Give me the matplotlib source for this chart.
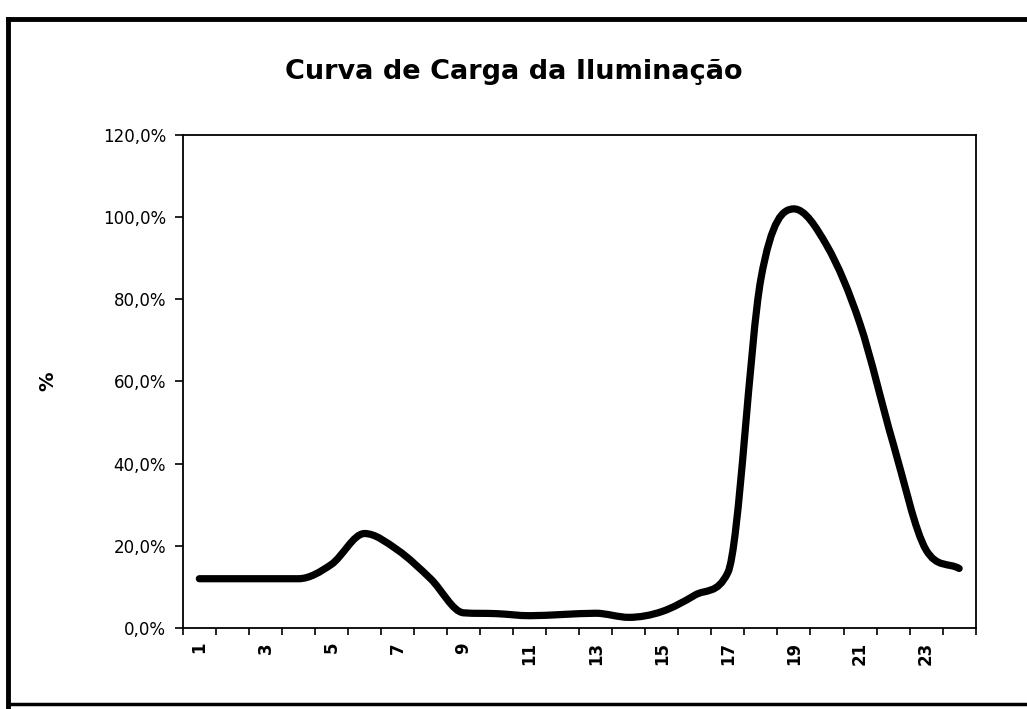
import matplotlib
matplotlib.use('Agg')
import matplotlib.pyplot as plt
import numpy as np
from matplotlib.path import Path
from matplotlib.patches import PathPatch
from matplotlib.lines import Line2D
from matplotlib.ticker import FuncFormatter, FixedLocator

# ---- data ----
hours = np.arange(1, 25)
load_pct = [12, 12, 12, 12, 15.5, 23, 19, 12, 3.7, 3.5, 3.0, 3.3,
            3.6, 2.6, 4.0, 8.0, 13.5, 85, 102, 93, 74, 45, 19, 14.5]
xtick_labels = [str(h) for h in range(1, 24, 2)]
title = 'Curva de Carga da Iluminação'


def smooth_path(x, y):
    # smoothed line as cubic Bezier segments; central-difference tangents,
    # clamped (Fritsch-Carlson) so the curve does not overshoot
    x = np.asarray(x, float)
    y = np.asarray(y, float)
    h = np.diff(x)
    d = np.diff(y) / h
    m = np.zeros_like(y)
    m[0], m[-1] = d[0], d[-1]
    for i in range(1, len(y) - 1):
        if d[i - 1] * d[i] <= 0:
            m[i] = 0.0
        else:
            c = 0.5 * (d[i - 1] + d[i])
            lim = 3.0 * min(abs(d[i - 1]), abs(d[i]))
            m[i] = np.sign(c) * min(abs(c), lim)
    verts = [(x[0], y[0])]
    codes = [Path.MOVETO]
    for i in range(len(y) - 1):
        verts += [(x[i] + h[i] / 3, y[i] + m[i] * h[i] / 3),
                  (x[i + 1] - h[i] / 3, y[i + 1] - m[i + 1] * h[i] / 3),
                  (x[i + 1], y[i + 1])]
        codes += [Path.CURVE4] * 3
    return Path(verts, codes)


fig = plt.figure(figsize=(10.27, 7.09), dpi=100)
ax = fig.add_axes([0.178, 0.1142, 0.772, 0.6955])

path = smooth_path(hours, load_pct)
ax.add_patch(PathPatch(path, facecolor='none', edgecolor='black', lw=5.2,
                       capstyle='round', joinstyle='round', zorder=3))

ax.set_xlim(0.5, 24.5)
ax.set_ylim(0, 120)

# y axis
ax.set_yticks(np.arange(0, 121, 20))
ax.yaxis.set_major_formatter(FuncFormatter(lambda v, p: f'{v:.1f}%'.replace('.', ',')))
ax.tick_params(axis='y', direction='out', length=6, width=1.2, labelsize=12, pad=6)

# x axis: tick marks at category boundaries, labels at every other category
ax.xaxis.set_major_locator(FixedLocator(np.arange(0.5, 25, 1)))
ax.set_xticklabels([])
ax.tick_params(axis='x', which='major', direction='out', length=5, width=1.2)
ax.xaxis.set_minor_locator(FixedLocator(range(1, 24, 2)))
ax.set_xticklabels(xtick_labels, minor=True, rotation=90, fontsize=12,
                   fontweight='bold')
ax.tick_params(axis='x', which='minor', length=0, pad=10)

for s in ax.spines.values():
    s.set_linewidth(1.3)
    s.set_color('black')

ax.set_ylabel('%', fontsize=14, fontweight='bold', labelpad=33)

fig.text(0.5, 0.898, title, ha='center', va='center', fontsize=19.5,
         fontweight='bold')

# outer frame of the scanned chart
fig.add_artist(Line2D([0.008, 1.0], [0.973, 0.973], color='black', lw=3.5,
                      transform=fig.transFigure))
fig.add_artist(Line2D([0.008, 0.008], [0.0, 0.973], color='black', lw=3.5,
                      transform=fig.transFigure))
fig.add_artist(Line2D([0.008, 1.0], [0.007, 0.007], color='black', lw=2.5,
                      transform=fig.transFigure))

fig.savefig('out.png', dpi=100, facecolor='white')
